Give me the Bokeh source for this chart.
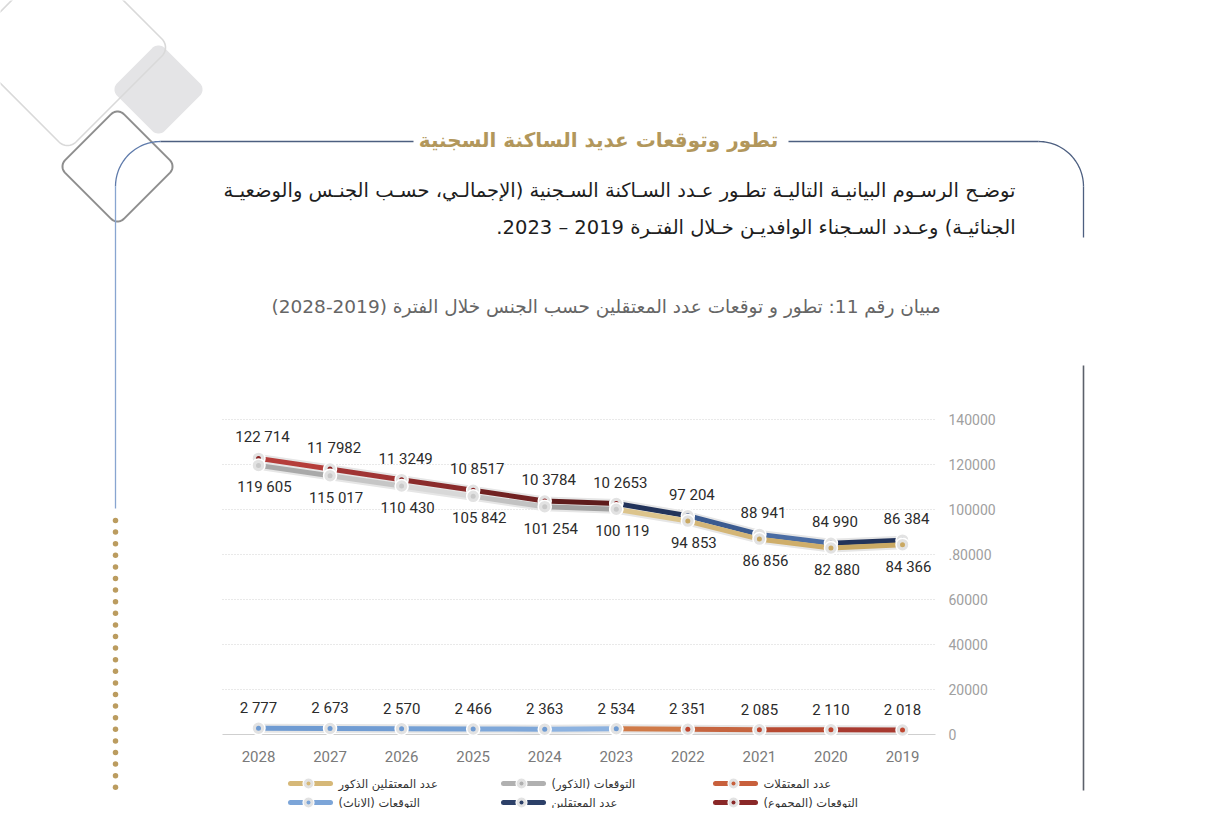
import numpy as np
from bokeh.plotting import figure
from bokeh.models import Range1d, LinearAxis, FixedTicker, PrintfTickFormatter
from bokeh.embed import file_html
from bokeh.resources import INLINE
from bokeh.core.properties import value

# ---------------- data ----------------
years_proj = [2028, 2027, 2026, 2025, 2024, 2023]
years_act = [2023, 2022, 2021, 2020, 2019]

total_proj = [122714, 117982, 113249, 108517, 103784, 102653]
total_act = [102653, 97204, 88941, 84990, 86384]
male_proj = [119605, 115017, 110430, 105842, 101254, 100119]
male_act = [100119, 94853, 86856, 82880, 84366]
female_proj = [2777, 2673, 2570, 2466, 2363, 2534]
female_act = [2534, 2351, 2085, 2110, 2018]

total_labels = ["122 714", "11 7982", "11 3249", "10 8517", "10 3784", "10 2653",
                "97 204", "88 941", "84 990", "86 384"]
male_labels = ["119 605", "115 017", "110 430", "105 842", "101 254", "100 119",
               "94 853", "86 856", "82 880", "84 366"]
female_labels = ["2 777", "2 673", "2 570", "2 466", "2 363", "2 534",
                 "2 351", "2 085", "2 110", "2 018"]

y_ticks = [0, 20000, 40000, 60000, 80000, 100000, 120000, 140000]
y_tick_overrides = {80000: ".80000"}

legend_labels = ["عدد المعتقلين الذكور", "التوقعات (الذكور)", "عدد المعتقلات",
                 "التوقعات (الاناث)", "عدد المعتقلين", "التوقعات (المجموع)"]

section_title = "تطور وتوقعات عديد الساكنة السجنية"
paragraph = ["توضـح الرسـوم البيانيـة التاليـة تطـور عـدد السـاكنة السـجنية (الإجمالـي، حسـب الجنـس والوضعيـة",
             "الجنائيـة) وعـدد السـجناء الوافديـن خـلال الفتـرة 2019 – 2023."]
chart_title = "مبيان رقم 11: تطور و توقعات عدد المعتقلين حسب الجنس خلال الفترة (2019-2028)"

# ---------------- styles ----------------
AR_FONT = value("DejaVu Sans")
NUM_FONT = value("Roboto")


def rtl(s):
    return "\u202b" + s + "\u202c"


# page geometry (figure covers the whole page)
W, H = 1212, 808
PX0, PX1 = 0, W
PY0, PY1 = 0, H

p = figure(width=W, height=H, x_range=Range1d(PX0, PX1), y_range=Range1d(PY1, PY0),
           x_axis_type=None, y_axis_type=None, output_backend="svg",
           toolbar_location=None, min_border=0, outline_line_color=None)
p.background_fill_color = "white"
p.border_fill_color = "white"

# data scales placed onto the chart area
all_years = years_proj + years_act[1:]
YR_L, YR_R = max(all_years), min(all_years)
X_L, X_R = 258.0, 902.0          # pixel positions of first / last year
kx = (X_R - X_L) / (YR_R - YR_L)
p.extra_x_ranges = {"yr": Range1d(YR_L + (PX0 - X_L) / kx, YR_L + (PX1 - X_L) / kx)}
V_TOP = max(y_ticks)
Y_ZERO, Y_TOP = 734.0, 419.0     # pixel positions of 0 and the top tick
ky = (Y_TOP - Y_ZERO) / V_TOP
p.extra_y_ranges = {"val": Range1d((PY1 - Y_ZERO) / ky, (PY0 - Y_ZERO) / ky)}

GRID_L, GRID_R = 222, 935

# ---------------- decorations ----------------
def rounded_diamond(cx, cy, tip, r, n=12):
    s = (tip - r) / np.sqrt(2) + r
    pts = []
    for (ccx, ccy, a0) in [(s - r, s - r, 0), (-(s - r), s - r, 90),
                           (-(s - r), -(s - r), 180), (s - r, -(s - r), 270)]:
        for a in np.linspace(a0, a0 + 90, n):
            t = np.radians(a)
            pts.append((ccx + r * np.cos(t), ccy + r * np.sin(t)))
    pts = np.array(pts)
    c, sn = np.cos(np.pi / 4), np.sin(np.pi / 4)
    xs = cx + pts[:, 0] * c - pts[:, 1] * sn
    ys = cy + pts[:, 0] * sn + pts[:, 1] * c
    return list(xs) + [xs[0]], list(ys) + [ys[0]]

xs, ys = rounded_diamond(158, 89, 44, 9)
p.patch(xs, ys, fill_color="#e4e4e6", line_color=None)
xs, ys = rounded_diamond(67, 47, 98, 12)
p.line(xs, ys, line_color="#d9d9d9", line_width=1.6)
xs, ys = rounded_diamond(117, 166, 55, 9)
p.line(xs, ys, line_color="#8e8e8e", line_width=2)

# frame lines around the header
R = 45
th = np.radians(np.linspace(180, 270, 30))
p.line(list(160 + R * np.cos(th)), list(186 + R * np.sin(th)), line_color="#5f7bab", line_width=1.3)
th = np.radians(np.linspace(270, 360, 30))
p.line(list(1038 + R * np.cos(th)), list(186 + R * np.sin(th)), line_color="#4d5f80", line_width=1.3)
p.segment(x0=[160, 788], y0=[141, 141], x1=[413, 1038], y1=[141, 141],
          line_color="#4d5f80", line_width=1.3)
p.segment(x0=[115, 1083, 1083], y0=[186, 186, 365], x1=[115, 1083, 1083], y1=[508, 237, 790],
          line_color=["#88a5d0", "#4d5f80", "#5c616b"], line_width=[1.3, 1.3, 1.6])
dot_y = list(520 + 11.6 * np.arange(24))
p.scatter(x=[115] * len(dot_y), y=dot_y, size=5.5, fill_color="#bb9c5f", line_color=None)

# texts
p.text(x=[598], y=[139], text=[rtl(section_title)], text_font=AR_FONT, text_font_size="20px",
       text_font_style="bold", text_color="#b2975b", text_align="center", text_baseline="middle")
p.text(x=[1015, 1015], y=[190, 227], text=[rtl(t) for t in paragraph], text_font=AR_FONT,
       text_font_size="19.5px", text_color="#1e1e1e", text_align="right", text_baseline="middle")
p.text(x=[940], y=[306], text=[rtl(chart_title)], text_font=AR_FONT, text_font_size="18.5px",
       text_color="#666666", text_align="right", text_baseline="middle")

# ---------------- chart ----------------
# grid lines
p.segment(x0=GRID_L, x1=GRID_R, y0=y_ticks[1:], y1=y_ticks[1:], y_range_name="val",
          line_color="#d2d2d2", line_dash="1 2", line_width=1)
p.segment(x0=GRID_L, x1=GRID_R, y0=y_ticks[:1], y1=y_ticks[:1], y_range_name="val",
          line_color="#cfcfcf", line_width=1.2)

yax = LinearAxis(y_range_name="val", ticker=FixedTicker(ticks=y_ticks),
                 formatter=PrintfTickFormatter(format="%d"), fixed_location=GRID_R,
                 bounds=(min(y_ticks), max(y_ticks)))
yax.major_label_overrides = y_tick_overrides
yax.axis_line_color = None
yax.major_tick_line_color = None
yax.minor_tick_line_color = None
yax.major_tick_out = 0
yax.major_tick_in = 0
yax.major_label_standoff = 13
yax.major_label_text_color = "#a0a0a0"
yax.major_label_text_font = "Roboto"
yax.major_label_text_font_size = "14px"
p.add_layout(yax, "right")

xax = LinearAxis(x_range_name="yr", ticker=FixedTicker(ticks=all_years),
                 formatter=PrintfTickFormatter(format="%d"), fixed_location=Y_ZERO,
                 bounds=(YR_R, YR_L))
xax.axis_line_color = None
xax.major_tick_line_color = None
xax.minor_tick_line_color = None
xax.major_tick_out = 0
xax.major_tick_in = 0
xax.major_label_standoff = 16
xax.major_label_text_color = "#7a7a7a"
xax.major_label_text_font = "Roboto"
xax.major_label_text_font_size = "15px"
p.add_layout(xax, "below")

RK = dict(x_range_name="yr", y_range_name="val")

series = [
    (years_act, total_act, ["#22335a", "#3b5b90", "#4a6ca3", "#22335a"], "#2f4a7a"),
    (years_act, male_act, ["#dcc48c", "#d4b677", "#cfae6a", "#caa963"], "#c9a862"),
    (years_act, female_act, ["#d07a48", "#c66540", "#b84a32", "#a83a30"], "#c0462f"),
    (years_proj, total_proj, ["#b53d3a", "#a03434", "#8a2b2b", "#712222", "#5e1b1b"], "#8b2323"),
    (years_proj, male_proj, ["#a9a9a9", "#c6c6c6", "#d8d8d8", "#c2c2c2", "#a2a2a2"], "#c9c9c9"),
    (years_proj, female_proj, ["#6f9bd2", "#709cd3", "#74a0d5", "#7ea7d9", "#8cb2e0"], "#6f9bd2"),
]

for yrs, vals, cols, dc in series:
    p.line(yrs, vals, line_color="#e6e6e6", line_width=9, line_join="round", line_cap="round", **RK)
for yrs, vals, cols, dc in series:
    p.segment(x0=yrs[:-1], x1=yrs[1:], y0=vals[:-1], y1=vals[1:], line_color=cols,
              line_width=5, line_cap="round", **RK)
for yrs, vals, cols, dc in series:
    p.scatter(yrs, vals, size=13, fill_color="#e2e2e2", line_color="white", line_width=1.5, **RK)
    p.scatter(yrs, vals, size=5, fill_color=dc, line_color=None, **RK)

lab_kw = dict(text_font=NUM_FONT, text_font_size="15px", text_color="#2b2b2b",
              text_align="center", text_baseline="middle", **RK)
p.text(x=all_years, y=total_proj + total_act[1:], text=total_labels, x_offset=4, y_offset=-21, **lab_kw)
p.text(x=all_years, y=male_proj + male_act[1:], text=male_labels, x_offset=6, y_offset=22, **lab_kw)
p.text(x=all_years, y=female_proj + female_act[1:], text=female_labels, x_offset=0, y_offset=-20, **lab_kw)

# ---------------- legend ----------------
leg_cols = ["#d6b878", "#b0b0b0", "#c8603c", "#7ca5d8", "#2c4068", "#8a2828"]
leg_x = [290, 503, 715, 290, 503, 715]
leg_y = [783, 783, 783, 802, 802, 802]
lx0 = np.array(leg_x, dtype=float)
p.segment(x0=list(lx0), x1=list(lx0 + 40), y0=leg_y, y1=leg_y, line_color=leg_cols,
          line_width=5, line_cap="round")
p.scatter(x=list(lx0 + 18), y=leg_y, size=11, fill_color="#e2e2e2", line_color="white", line_width=1.2)
p.scatter(x=list(lx0 + 18), y=leg_y, size=4, fill_color=leg_cols, line_color=None)
p.text(x=list(lx0 + 48), y=leg_y, text=[rtl(t) for t in legend_labels], text_font=AR_FONT,
       text_font_size="11.5px", text_color="#333333", text_align="left", text_baseline="middle")

open("out.html", "w").write(file_html(p, INLINE))
